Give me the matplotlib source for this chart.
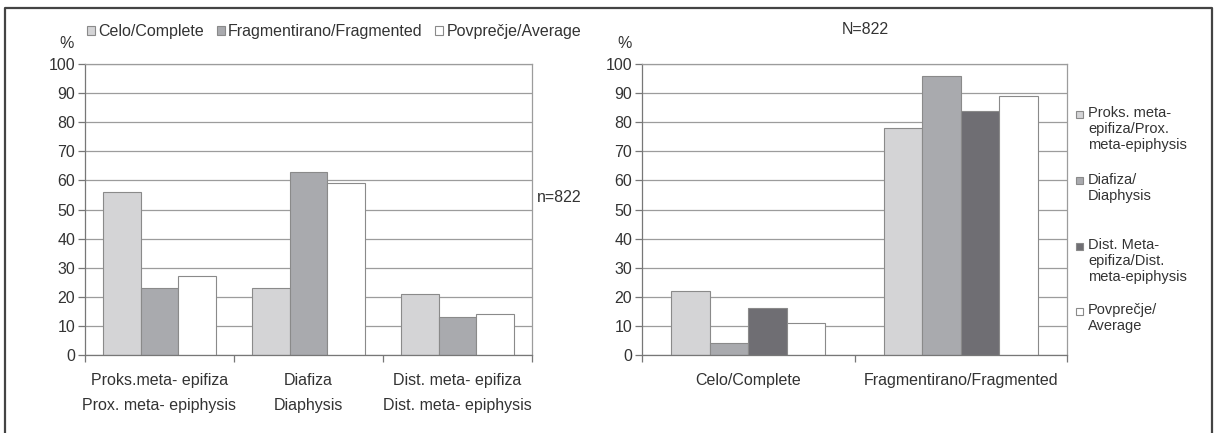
import matplotlib
matplotlib.use("Agg")
import matplotlib.pyplot as plt
from matplotlib.patches import Rectangle
from matplotlib.lines import Line2D
import numpy as np

plt.rcParams['font.family'] = ['Liberation Sans', 'DejaVu Sans']

# ---- data ----
left_categories = ["Proks.meta- epifiza\nProx. meta- epiphysis",
                   "Diafiza\nDiaphysis",
                   "Dist. meta- epifiza\nDist. meta- epiphysis"]
left_series_names = ["Celo/Complete", "Fragmentirano/Fragmented", "Povprečje/Average"]
left_complete = [56, 23, 21]
left_fragmented = [23, 63, 13]
left_average = [27, 59, 14]

right_categories = ["Celo/Complete", "Fragmentirano/Fragmented"]
right_series_names = ["Proks. meta-\nepifiza/Prox.\nmeta-epiphysis",
                      "Diafiza/\nDiaphysis",
                      "Dist. Meta-\nepifiza/Dist.\nmeta-epiphysis",
                      "Povprečje/\nAverage"]
right_prox = [22, 78]
right_diaph = [4, 96]
right_dist = [16, 84]
right_avg = [11, 89]

yticks = [0, 10, 20, 30, 40, 50, 60, 70, 80, 90, 100]

W, H = 1217, 433
fig = plt.figure(figsize=(W / 100, H / 100), dpi=100)

C_LIGHT = "#d4d4d6"
C_MID = "#a9aaae"
C_DARK = "#6f6e73"
C_WHITE = "#ffffff"
EDGE = "#8a8a8a"
GRID = "#9c9c9c"
FS = 11.5
FS_LEG = 10.5
TXT = "#333333"


def px_axes(x0, x1, y0, y1):
    return fig.add_axes([x0 / W, 1 - y1 / H, (x1 - x0) / W, (y1 - y0) / H])


def style_axes(ax, ncat):
    ax.set_ylim(0, 100)
    ax.set_xlim(-0.5, ncat - 0.5)
    ax.set_yticks(yticks)
    ax.set_yticklabels([str(t) for t in yticks], fontsize=FS, color=TXT)
    ax.yaxis.grid(True, color=GRID, lw=0.9)
    ax.set_axisbelow(True)
    for s in ax.spines.values():
        s.set_color(GRID)
        s.set_linewidth(0.9)
    ax.spines['left'].set_color("#777777")
    ax.spines['bottom'].set_color("#777777")
    ax.tick_params(axis='y', length=5, width=0.9, color="#777777", pad=2)
    ax.set_xticks(np.arange(ncat))
    ax.tick_params(axis='x', which='major', length=0, pad=13)
    ax.set_xticks(np.arange(ncat + 1) - 0.5, minor=True)
    ax.tick_params(axis='x', which='minor', length=5, width=0.9, color="#777777")


# ---- left chart ----
axL = px_axes(85, 532, 64, 355)
x = np.arange(len(left_categories))
bw = 0.253
for i, (vals, col) in enumerate(zip([left_complete, left_fragmented, left_average],
                                    [C_LIGHT, C_MID, C_WHITE])):
    axL.bar(x + (i - 1) * bw, vals, bw, color=col, edgecolor=EDGE, linewidth=0.8)
style_axes(axL, len(left_categories))
axL.set_xticklabels(left_categories, fontsize=FS, color=TXT, linespacing=1.85)

# left legend (top)
handles = [Rectangle((0, 0), 1, 1, facecolor=c, edgecolor=EDGE, lw=0.8)
           for c in [C_LIGHT, C_MID, C_WHITE]]
fig.legend(handles, left_series_names, loc='upper left',
           bbox_to_anchor=(87 / W, 1 - 24 / H), ncol=3, frameon=False,
           fontsize=FS, handlelength=0.5, handleheight=0.5, handletextpad=0.2,
           columnspacing=0.8, borderpad=0, borderaxespad=0, labelcolor=TXT)

fig.text(67 / W, 1 - 44 / H, "%", fontsize=FS, color=TXT, ha='center', va='center')
fig.text(537 / W, 1 - 197 / H, "n=822", fontsize=FS, color=TXT, ha='left', va='center')

# ---- right chart ----
axR = px_axes(642, 1067, 64, 355)
x2 = np.arange(len(right_categories))
bw2 = 0.181
right_cols = [C_LIGHT, C_MID, C_DARK, C_WHITE]
for i, (vals, col) in enumerate(zip([right_prox, right_diaph, right_dist, right_avg], right_cols)):
    axR.bar(x2 + (i - 1.5) * bw2, vals, bw2, color=col, edgecolor=EDGE, linewidth=0.8)
style_axes(axR, len(right_categories))
axR.set_xticklabels(right_categories, fontsize=FS, color=TXT)

fig.text(625 / W, 1 - 44 / H, "%", fontsize=FS, color=TXT, ha='center', va='center')
fig.text(865 / W, 1 - 30 / H, "N=822", fontsize=FS, color=TXT, ha='center', va='center')

# right legend (manual, top-aligned multi-line labels)
entry_y = [114, 181, 246, 311]
for name, col, yy in zip(right_series_names, right_cols, entry_y):
    s = 7
    fig.patches.append(Rectangle(((1079 - s / 2) / W, 1 - (yy + s / 2) / H), s / W, s / H,
                                 transform=fig.transFigure, facecolor=col,
                                 edgecolor=EDGE, lw=0.8))
    fig.text(1088 / W, 1 - (yy - 8) / H, name, fontsize=FS_LEG, color=TXT,
             ha='left', va='top', linespacing=1.2)

# outer frame
fx0, fx1, fy = 5 / W, 1212 / W, 1 - 8 / H
fig.add_artist(Line2D([fx0, fx0, fx1, fx1], [0, fy, fy, 0],
                      transform=fig.transFigure, color="#444444", lw=1.6))

fig.savefig("out.png", dpi=100, facecolor="white")
